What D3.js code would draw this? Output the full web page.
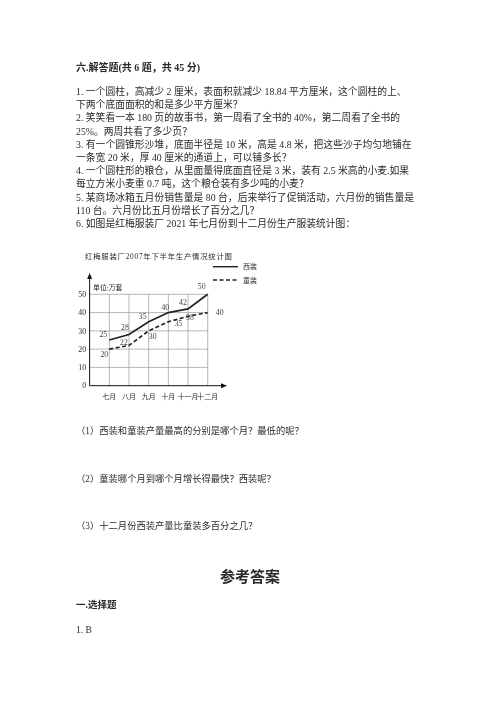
<!DOCTYPE html>
<html>
<head>
<meta charset="utf-8">
<script src="https://cdn.jsdelivr.net/npm/d3@7"></script>
<style>
  body { margin: 0; background: #fff; }
  svg { will-change: transform; -webkit-font-smoothing: antialiased; }
  svg text { font-family: "Liberation Serif", "Noto Sans CJK SC", serif; }
</style>
</head>
<body>
<svg id="page" width="500" height="707"></svg>
<script>
// page text, line by line
var heading = "六.解答题(共 6 题，共 45 分)";
var bodyLines = [
  "1. 一个圆柱，高减少 2 厘米，表面积就减少 18.84 平方厘米，这个圆柱的上、",
  "下两个底面面积的和是多少平方厘米？",
  "2. 笑笑看一本 180 页的故事书，第一周看了全书的 40%，第二周看了全书的",
  "25%。两周共看了多少页？",
  "3. 有一个圆锥形沙堆，底面半径是 10 米，高是 4.8 米，把这些沙子均匀地铺在",
  "一条宽 20 米，厚 40 厘米的通道上，可以铺多长？",
  "4. 一个圆柱形的粮仓，从里面量得底面直径是 3 米，装有 2.5 米高的小麦.如果",
  "每立方米小麦重 0.7 吨，这个粮仓装有多少吨的小麦？",
  "5. 某商场冰箱五月份销售量是 80 台，后来举行了促销活动，六月份的销售量是",
  "110 台。六月份比五月份增长了百分之几？",
  "6. 如图是红梅服装厂 2021 年七月份到十二月份生产服装统计图："
];
var questions = [
  "（1）西装和童装产量最高的分别是哪个月？最低的呢？",
  "（2）童装哪个月到哪个月增长得最快？西装呢？",
  "（3）十二月份西装产量比童装多百分之几？"
];

// chart data
var chartTitle = "红梅服装厂2007年下半年生产情况统计图";
var months = ["七月", "八月", "九月", "十月", "十一月", "十二月"];
var suits = [25, 28, 35, 40, 42, 50];      // 西装
var kids = [20, 22, 30, 35, 38, 40];       // 童装
var yTicks = [0, 10, 20, 30, 40, 50];
var seriesNames = ["西装", "童装"];

var ink = "#2a2a2a";
var svg = d3.select("#page");
svg.append("rect").attr("width", 500).attr("height", 707).attr("fill", "#fff");

var left = 76;

svg.append("text")
  .attr("x", left).attr("y", 71)
  .attr("font-size", 10).attr("font-weight", "bold")
  .attr("fill", ink)
  .text(heading);

svg.selectAll("text.body")
  .data(bodyLines)
  .enter().append("text")
    .attr("class", "body")
    .attr("x", left)
    .attr("y", function(d, i) { return 95 + i * 13.2; })
    .attr("font-size", 9.8)
    .attr("fill", ink)
    .text(function(d) { return d; });

// ---- the chart ----
var x = d3.scalePoint().domain(months).range([109.3, 207.7]);
var y = d3.scaleLinear().domain([0, 50]).range([385.7, 294.3]);
var x0 = x(months[0]) - x.step();

var chart = svg.append("g").attr("class", "chart");

chart.append("text")
  .attr("x", 85).attr("y", 259)
  .attr("font-size", 7.4)
  .attr("fill", ink)
  .attr("textLength", 147)
  .text(chartTitle);

// grid
chart.selectAll("line.hgrid")
  .data(yTicks.slice(1))
  .enter().append("line")
    .attr("class", "hgrid")
    .attr("x1", x0).attr("x2", x(months[months.length - 1]))
    .attr("y1", function(d) { return y(d); }).attr("y2", function(d) { return y(d); })
    .attr("stroke", "#999").attr("stroke-width", 0.7);

chart.selectAll("line.vgrid")
  .data(months)
  .enter().append("line")
    .attr("class", "vgrid")
    .attr("x1", function(d) { return x(d); }).attr("x2", function(d) { return x(d); })
    .attr("y1", y(0)).attr("y2", y(50))
    .attr("stroke", "#999").attr("stroke-width", 0.7);

// axes with arrow heads
chart.append("line")
  .attr("x1", x0).attr("x2", x0).attr("y1", y(0)).attr("y2", 276)
  .attr("stroke", "#111").attr("stroke-width", 1);
chart.append("path")
  .attr("d", "M" + x0 + ",273 l-2.5,6 l5,0 z").attr("fill", "#111");
chart.append("line")
  .attr("x1", x0).attr("x2", 224).attr("y1", y(0)).attr("y2", y(0))
  .attr("stroke", "#111").attr("stroke-width", 1);
chart.append("path")
  .attr("d", "M227," + y(0) + " l-6,-2.5 l0,5 z").attr("fill", "#111");

chart.selectAll("text.ytick")
  .data(yTicks)
  .enter().append("text")
    .attr("class", "ytick")
    .attr("x", x0 - 3.5)
    .attr("y", function(d) { return y(d) + 2.7; })
    .attr("text-anchor", "end")
    .attr("font-size", 7.8)
    .attr("fill", ink)
    .text(function(d) { return d; });

chart.selectAll("text.xtick")
  .data(months)
  .enter().append("text")
    .attr("class", "xtick")
    .attr("x", function(d) { return x(d); })
    .attr("y", 398.5)
    .attr("text-anchor", "middle")
    .attr("font-size", 6.9)
    .attr("fill", ink)
    .text(function(d) { return d; });

chart.append("text")
  .attr("x", 93).attr("y", 289.5)
  .attr("font-size", 6.9)
  .attr("fill", ink)
  .text("单位:万套");

// lines
var line = d3.line()
  .x(function(d, i) { return x(months[i]); })
  .y(function(d) { return y(d); });

chart.append("path")
  .datum(suits)
  .attr("d", line)
  .attr("fill", "none").attr("stroke", "#222").attr("stroke-width", 1.7);

chart.append("path")
  .datum(kids)
  .attr("d", line)
  .attr("fill", "none").attr("stroke", "#222").attr("stroke-width", 1.7)
  .attr("stroke-dasharray", "4,2.5");

// value labels, nudged like the original
var suitNudge = [[-6, -3], [-4, -5], [-6, -3], [-3, -3], [-5, -4], [-6, -5]];
var kidNudge = [[-5, 5], [-5, -3], [4, 6], [10, 2], [2, 1], [12, 0]];

chart.selectAll("text.suit")
  .data(suits)
  .enter().append("text")
    .attr("class", "suit")
    .attr("x", function(d, i) { return x(months[i]) + suitNudge[i][0]; })
    .attr("y", function(d, i) { return y(d) + suitNudge[i][1]; })
    .attr("text-anchor", "middle")
    .attr("font-size", 7.8)
    .attr("fill", "#444")
    .text(function(d) { return d; });

chart.selectAll("text.kid")
  .data(kids)
  .enter().append("text")
    .attr("class", "kid")
    .attr("x", function(d, i) { return x(months[i]) + kidNudge[i][0]; })
    .attr("y", function(d, i) { return y(d) + kidNudge[i][1] + 2.5; })
    .attr("text-anchor", "middle")
    .attr("font-size", 7.8)
    .attr("fill", "#444")
    .text(function(d) { return d; });

// legend
var legend = chart.selectAll("g.legend")
  .data(seriesNames)
  .enter().append("g")
    .attr("class", "legend")
    .attr("transform", function(d, i) { return "translate(213," + (266.7 + i * 13.3) + ")"; });
legend.append("line")
  .attr("x1", 0).attr("x2", 25)
  .attr("stroke", "#222").attr("stroke-width", 1.4)
  .attr("stroke-dasharray", function(d, i) { return i ? "4,2.5" : null; });
legend.append("text")
  .attr("x", 30).attr("y", 2.5)
  .attr("font-size", 6.9)
  .attr("fill", ink)
  .text(function(d) { return d; });

// ---- questions and answers ----
svg.selectAll("text.q")
  .data(questions)
  .enter().append("text")
    .attr("class", "q")
    .attr("x", left)
    .attr("y", function(d, i) { return [434, 482, 529][i]; })
    .attr("font-size", 9.3)
    .attr("fill", ink)
    .text(function(d) { return d; });

svg.append("text")
  .attr("x", 250).attr("y", 582)
  .attr("text-anchor", "middle")
  .attr("font-size", 15).attr("font-weight", "bold")
  .attr("fill", ink)
  .text("参考答案");

svg.append("text")
  .attr("x", left).attr("y", 608)
  .attr("font-size", 9.5).attr("font-weight", "bold")
  .attr("fill", ink)
  .text("一.选择题");

svg.append("text")
  .attr("x", left).attr("y", 633)
  .attr("font-size", 9.5)
  .attr("fill", ink)
  .text("1. B");
</script>
</body>
</html>
